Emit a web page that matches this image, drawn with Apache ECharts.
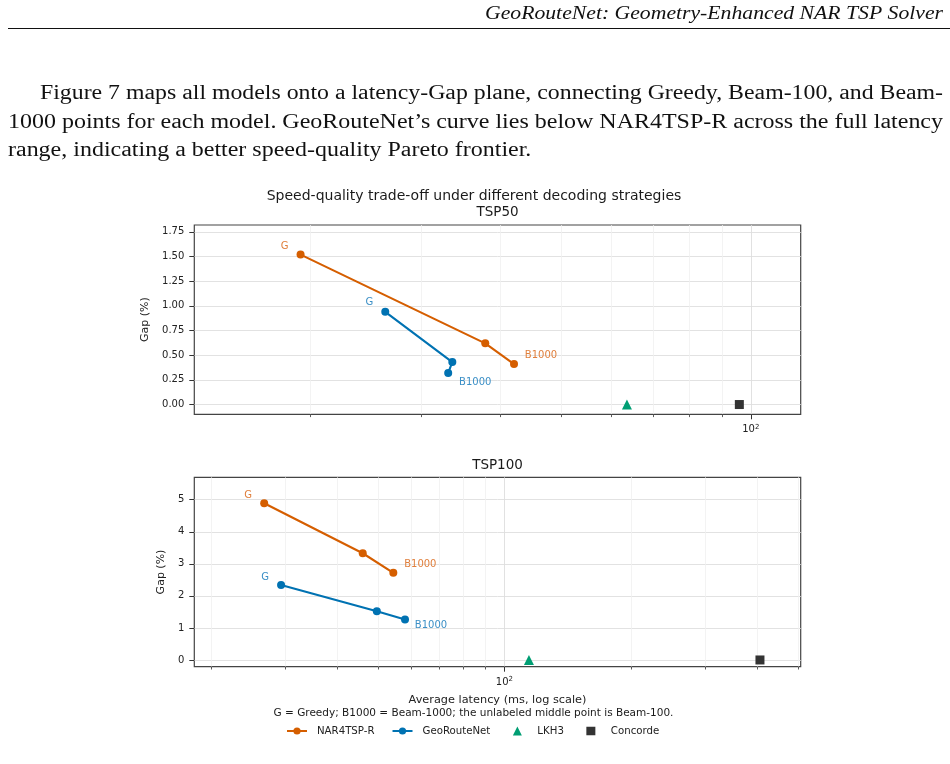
<!DOCTYPE html>
<html>
<head>
<meta charset="utf-8">
<script src="https://cdn.jsdelivr.net/npm/echarts@6/dist/echarts.min.js"></script>
<style>
  html, body { margin: 0; padding: 0; background: #fff; }
  #chart { width: 950px; height: 764px; }
</style>
</head>
<body>
<div id="chart"></div>
<script>
// ---- data (latency in ms, gap in %) ----
var models = ['NAR4TSP-R', 'GeoRouteNet'];
var solvers = ['LKH3', 'Concorde'];
var pointTags = ['G', '', 'B1000'];   // Greedy, Beam-100, Beam-1000

var tsp50NarLatency = [19.3, 37.9, 42.1];
var tsp50NarGap = [1.52, 0.62, 0.41];
var tsp50GeoLatency = [26.3, 33.6, 33.1];
var tsp50GeoGap = [0.94, 0.43, 0.32];
var tsp50SolverLatency = [63.6, 95.9];
var tsp50SolverGap = [0, 0];

var tsp100NarLatency = [26.8, 46.0, 54.4];
var tsp100NarGap = [4.89, 3.33, 2.72];
var tsp100GeoLatency = [29.4, 49.7, 58.0];
var tsp100GeoGap = [2.34, 1.52, 1.26];
var tsp100SolverLatency = [114.4, 406];
var tsp100SolverGap = [0, 0];

// ticks
var tsp50MinorTicks = [20, 30, 40, 50, 60, 70, 80, 90];
var tsp100MinorTicks = [20, 30, 40, 50, 60, 70, 80, 90, 200, 300, 400, 500];
var majorTicks = [100];
var tsp50GapTicks = [0, 0.25, 0.5, 0.75, 1, 1.25, 1.5, 1.75];
var tsp100GapTicks = [0, 1, 2, 3, 4, 5];

var FONT = 'DejaVu Sans';
var SERIF = 'Liberation Serif';
var ORANGE = '#D55E00', BLUE = '#0072B2', GREEN = '#009E73', DARK = '#333333';
var ORANGE_TXT = '#e07f3c', BLUE_TXT = '#3b8fc6';

var myChart = echarts.init(document.getElementById('chart'));

function modelSeries(name, color, txtColor, lat, gap, xIdx, yIdx, offsets) {
    return {
        name: name,
        type: 'line',
        xAxisIndex: xIdx,
        yAxisIndex: yIdx,
        symbol: 'circle',
        symbolSize: 8,
        lineStyle: { width: 2.1, color: color },
        itemStyle: { color: color },
        label: { position: 'inside', color: txtColor, fontSize: 10, fontFamily: FONT },
        data: lat.map(function (x, i) {
            return {
                value: [x, gap[i]],
                label: { show: pointTags[i] !== '', formatter: pointTags[i], offset: offsets[i] }
            };
        }),
        z: 3
    };
}

function solverSeries(i, color, symbol, size, lat, gap, xIdx, yIdx) {
    return {
        name: solvers[i],
        type: 'scatter',
        xAxisIndex: xIdx,
        yAxisIndex: yIdx,
        symbol: symbol,
        symbolSize: size,
        itemStyle: { color: color, opacity: 1 },
        data: [[lat[i], gap[i]]],
        z: 4
    };
}

function latencyAxes(gridIndex, min, max, minor, withName) {
    var minorAxis = {
        type: 'log', logBase: 10, gridIndex: gridIndex, min: min, max: max, position: 'bottom',
        axisLine: { show: false, onZero: false },
        axisTick: { show: true, inside: false, customValues: minor, length: 2.8, lineStyle: { color: '#333', width: 0.8 } },
        axisLabel: { show: false },
        splitLine: { show: true, lineStyle: { color: '#f0f0f0', width: 0.8 } }
    };
    var majorAxis = {
        type: 'log', logBase: 10, gridIndex: gridIndex, min: min, max: max, position: 'bottom',
        axisLine: { show: false, onZero: false },
        axisTick: { show: true, inside: false, customValues: majorTicks, length: 5, lineStyle: { color: '#333', width: 1 } },
        axisLabel: {
            customValues: majorTicks, margin: 9, color: '#222', fontSize: 10, fontFamily: FONT,
            formatter: function (v) { return '10{sup|' + Math.round(Math.log10(v)) + '}'; },
            rich: { sup: { fontSize: 7, fontFamily: FONT, color: '#222', padding: [0, 0, 6, 0] } }
        },
        splitLine: { show: true, lineStyle: { color: '#dedede', width: 0.9 } }
    };
    if (withName) {
        majorAxis.name = 'Average latency (ms, log scale)';
        majorAxis.nameLocation = 'middle';
        majorAxis.nameGap = 28;
        majorAxis.nameTextStyle = { fontSize: 11.3, fontFamily: FONT, color: '#222' };
    }
    return [minorAxis, majorAxis];
}

function gapAxis(gridIndex, min, max, ticks, digits, nameGap) {
    return {
        type: 'value', gridIndex: gridIndex, min: min, max: max,
        axisLine: { show: false, onZero: false },
        axisTick: { show: true, inside: false, customValues: ticks, length: 5, lineStyle: { color: '#333', width: 1 } },
        axisLabel: {
            customValues: ticks, margin: 10, color: '#222', fontSize: 10, fontFamily: FONT,
            formatter: function (v) { return v.toFixed(digits); }
        },
        splitLine: { show: true, lineStyle: { color: '#e2e2e2', width: 1 } },
        name: 'Gap (%)', nameLocation: 'middle', nameGap: nameGap,
        nameTextStyle: { fontSize: 11, fontFamily: FONT, color: '#222' }
    };
}

// page text (paper layout around the figure)
var measureCtx = document.createElement('canvas').getContext('2d');
function textWidth(txt, font) { measureCtx.font = font; return measureCtx.measureText(txt).width; }

var paraFont = '20px "' + SERIF + '"';
var paraLines = [
    { text: 'Figure 7 maps all models onto a latency-Gap plane, connecting Greedy, Beam-100, and Beam-', x: 40, y: 94, w: 903 },
    { text: '1000 points for each model. GeoRouteNet\u2019s curve lies below NAR4TSP-R across the full latency', x: 8, y: 123, w: 935 },
    { text: 'range, indicating a better speed-quality Pareto frontier.', x: 8, y: 151, w: null }
];
var lastScale = 1;
var pageText = paraLines.map(function (ln) {
    var s = ln.w ? ln.w / textWidth(ln.text, paraFont) : lastScale;
    lastScale = s;
    return {
        type: 'text', x: ln.x, y: ln.y, scaleX: s,
        style: { text: ln.text, font: paraFont, fill: '#111', align: 'left', verticalAlign: 'middle' }
    };
});
var headFont = 'italic 18px "' + SERIF + '"';
var headText = 'GeoRouteNet: Geometry-Enhanced NAR TSP Solver';
pageText.push({
    type: 'text', x: 943, y: 14, scaleX: 458 / textWidth(headText, headFont),
    style: { text: headText, font: headFont, fill: '#111', align: 'right', verticalAlign: 'middle' }
});
pageText.push({
    type: 'line', shape: { x1: 8, y1: 28.5, x2: 950, y2: 28.5 },
    style: { stroke: '#111', lineWidth: 1 }
});

function centerText(txt, x, y, size) {
    return {
        type: 'text', x: x, y: y,
        style: { text: txt, font: size + 'px "' + FONT + '"', fill: '#1a1a1a', align: 'center', verticalAlign: 'middle' }
    };
}

var xs = latencyAxes(0, 13.09, 120.0, tsp50MinorTicks, false)
    .concat(latencyAxes(1, 18.27, 507.6, tsp100MinorTicks, true));

// legend marker icons drawn centred in a 20x9 box (degenerate end points keep the box width)
var triangleIcon = 'path://M0,9L0,9ZM10,0L14.5,9L5.5,9ZM20,9L20,9Z';
var squareIcon = 'path://M0,9L0,9ZM5.5,0.5L14.5,0.5L14.5,9L5.5,9ZM20,9L20,9Z';

var option = {
    animation: false,
    grid: [
        { left: 194.3, top: 225, width: 606.4, height: 189.3, show: true, borderColor: '#444', borderWidth: 1.2, backgroundColor: 'transparent' },
        { left: 194.3, top: 477.3, width: 606.4, height: 189.4, show: true, borderColor: '#444', borderWidth: 1.2, backgroundColor: 'transparent' }
    ],
    xAxis: xs,
    yAxis: [
        gapAxis(0, -0.099, 1.82, tsp50GapTicks, 2, 31),
        gapAxis(1, -0.21, 5.70, tsp100GapTicks, 0, 19)
    ],
    legend: {
        data: [
            { name: models[0] },
            { name: models[1] },
            { name: solvers[0], icon: triangleIcon, itemStyle: { color: GREEN } },
            { name: solvers[1], icon: squareIcon, itemStyle: { color: DARK } }
        ],
        left: 286, top: 726, padding: 0,
        itemWidth: 20, itemHeight: 9, itemGap: 17,
        symbolKeepAspect: true,
        selectedMode: false,
        textStyle: { fontSize: 10.2, fontFamily: FONT, color: '#222', padding: [0, 0, 0, 5] }
    },
    graphic: pageText.concat([
        centerText('Speed-quality trade-off under different decoding strategies', 474, 196, 14),
        centerText('TSP50', 497.5, 212, 13.5),
        centerText('TSP100', 497.5, 465, 13.5),
        centerText('G = Greedy; B1000 = Beam-1000; the unlabeled middle point is Beam-100.', 473.5, 713.5, 10.5)
    ]),
    series: [
        modelSeries(models[0], ORANGE, ORANGE_TXT, tsp50NarLatency, tsp50NarGap, 0, 0, [[-16, -8], [0, 0], [27, -9]]),
        modelSeries(models[1], BLUE, BLUE_TXT, tsp50GeoLatency, tsp50GeoGap, 0, 0, [[-16, -9], [0, 0], [27, 9]]),
        solverSeries(0, GREEN, 'triangle', 10, tsp50SolverLatency, tsp50SolverGap, 0, 0),
        solverSeries(1, DARK, 'rect', 9, tsp50SolverLatency, tsp50SolverGap, 0, 0),
        modelSeries(models[0], ORANGE, ORANGE_TXT, tsp100NarLatency, tsp100NarGap, 2, 1, [[-16, -8], [0, 0], [27, -8]]),
        modelSeries(models[1], BLUE, BLUE_TXT, tsp100GeoLatency, tsp100GeoGap, 2, 1, [[-16, -8], [0, 0], [26, 6]]),
        solverSeries(0, GREEN, 'triangle', 10, tsp100SolverLatency, tsp100SolverGap, 2, 1),
        solverSeries(1, DARK, 'rect', 9, tsp100SolverLatency, tsp100SolverGap, 2, 1)
    ]
};

myChart.setOption(option);
</script>
</body>
</html>
